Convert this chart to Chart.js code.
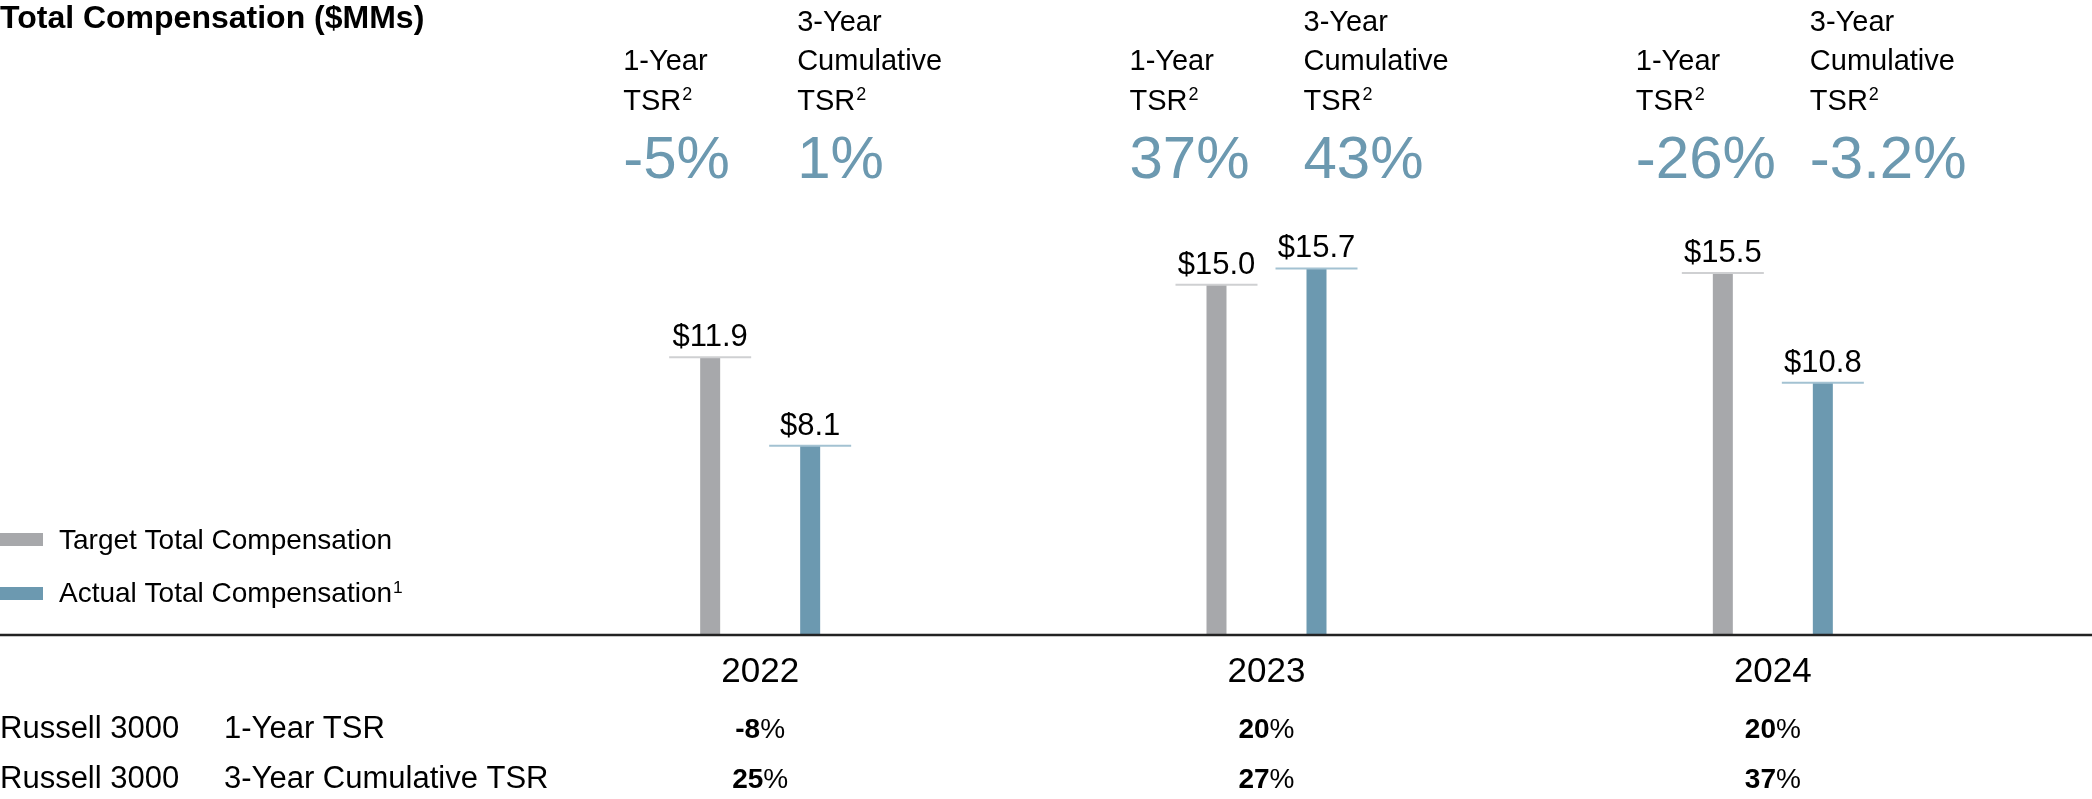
<!DOCTYPE html>
<html>
<head>
<meta charset="utf-8">
<script src="https://cdn.jsdelivr.net/npm/chart.js@4.4.1/dist/chart.umd.min.js"></script>
<style>
  html, body { margin: 0; padding: 0; background: #fff; }
  canvas { display: block; }
</style>
</head>
<body>
<canvas id="chart" width="2092" height="799"></canvas>
<script>
const years = ['2022', '2023', '2024'];
const targetComp = [11.9, 15.0, 15.5];
const actualComp = [8.1, 15.7, 10.8];
const oneYearTsr = ['-5%', '37%', '-26%'];
const threeYearTsr = ['1%', '43%', '-3.2%'];
const russellOneYear = ['-8%', '20%', '20%'];
const russellThreeYear = ['25%', '27%', '37%'];
const rowLabels = ['1-Year TSR', '3-Year Cumulative TSR'];
const legendNotes = ['', '1'];

const FONT = '"Liberation Sans", Arial, sans-serif';
const GRAY = '#a7a8ab';
const BLUE = '#6c99b0';
const capColors = ['#cfd0d2', '#a3c2d2'];

const text = (ctx, str, x, y, size, opts = {}) => {
    ctx.save();
    ctx.font = `${opts.bold ? 'bold ' : ''}${size}px ${FONT}`;
    ctx.fillStyle = opts.color || '#000';
    ctx.textAlign = opts.align || 'left';
    ctx.textBaseline = 'alphabetic';
    ctx.fillText(str, x, y);
    const w = ctx.measureText(str).width;
    ctx.restore();
    return w;
}

// text followed by a raised footnote number
const noteText = (ctx, str, note, x, y, size) => {
    const w = text(ctx, str, x, y, size);
    if (note) text(ctx, note, x + w + 1, y - size * 0.33, size * 0.62);
}

// bold number with a regular weight "%" sign, centred on x
const pctText = (ctx, str, x, y, size) => {
    const num = str.replace('%', '');
    ctx.save();
    ctx.font = `bold ${size}px ${FONT}`;
    const w1 = ctx.measureText(num).width;
    ctx.font = `${size}px ${FONT}`;
    const w2 = ctx.measureText('%').width;
    ctx.restore();
    const left = x - (w1 + w2) / 2;
    text(ctx, num, left, y, size, { bold: true });
    text(ctx, '%', left + w1, y, size);
}

const decorations = {
    id: 'decorations',
    afterDatasetsDraw(chart) {
        const ctx = chart.ctx;
        const base = chart.scales.y.getPixelForValue(0);

        // bar caps and value labels
        chart.data.datasets.forEach((ds, i) => {
            chart.getDatasetMeta(i).data.forEach((bar, j) => {
                ctx.save();
                ctx.strokeStyle = capColors[i];
                ctx.lineWidth = 2;
                ctx.beginPath();
                ctx.moveTo(bar.x - 41, bar.y);
                ctx.lineTo(bar.x + 41, bar.y);
                ctx.stroke();
                ctx.restore();
                text(ctx, '$' + ds.data[j].toFixed(1), bar.x, bar.y - 11, 31, { align: 'center' });
            });
        });

        // baseline across the full width
        ctx.save();
        ctx.strokeStyle = '#222';
        ctx.lineWidth = 2.5;
        ctx.beginPath();
        ctx.moveTo(0, base);
        ctx.lineTo(chart.width, base);
        ctx.stroke();
        ctx.restore();
    },
    afterDraw(chart) {
        const ctx = chart.ctx;
        const xScale = chart.scales.x;

        text(ctx, 'Total Compensation ($MMs)', 0, 28, 32, { bold: true });

        years.forEach((year, i) => {
            const cx = xScale.getPixelForValue(i);
            const x1 = cx - 137;
            const x3 = cx + 37;

            text(ctx, '1-Year', x1, 70, 29);
            noteText(ctx, 'TSR', '2', x1, 110, 29);
            text(ctx, oneYearTsr[i], x1, 178, 60, { color: BLUE });

            text(ctx, '3-Year', x3, 31, 29);
            text(ctx, 'Cumulative', x3, 70, 29);
            noteText(ctx, 'TSR', '2', x3, 110, 29);
            text(ctx, threeYearTsr[i], x3, 178, 60, { color: BLUE });

            text(ctx, year, cx, 682, 35, { align: 'center' });
            pctText(ctx, russellOneYear[i], cx, 738, 28);
            pctText(ctx, russellThreeYear[i], cx, 788, 28);
        });

        // legend
        chart.data.datasets.forEach((ds, i) => {
            ctx.fillStyle = ds.backgroundColor;
            ctx.fillRect(0, 533 + i * 54, 43, 13);
            noteText(ctx, ds.label, legendNotes[i], 59, 549 + i * 53, 28);
        });

        // Russell 3000 rows
        rowLabels.forEach((label, i) => {
            text(ctx, 'Russell 3000', 0, 738 + i * 50, 31);
            text(ctx, label, 224, 738 + i * 50, 31);
        });
    }
};

new Chart(document.getElementById('chart'), {
    type: 'bar',
    data: {
        labels: years,
        datasets: [
            {
                label: 'Target Total Compensation',
                data: targetComp,
                backgroundColor: GRAY
            },
            {
                label: 'Actual Total Compensation',
                data: actualComp,
                backgroundColor: BLUE
            }
        ]
    },
    options: {
        responsive: false,
        animation: false,
        devicePixelRatio: 1,
        events: [],
        categoryPercentage: 0.395,
        barPercentage: 0.2,
        layout: {
            padding: { left: 507, right: 66, top: 168, bottom: 164 }
        },
        plugins: {
            legend: { display: false },
            title: { display: false },
            tooltip: { enabled: false }
        },
        scales: {
            x: { display: false },
            y: { display: false, min: 0, max: 20 }
        }
    },
    plugins: [decorations]
});
</script>
</body>
</html>
